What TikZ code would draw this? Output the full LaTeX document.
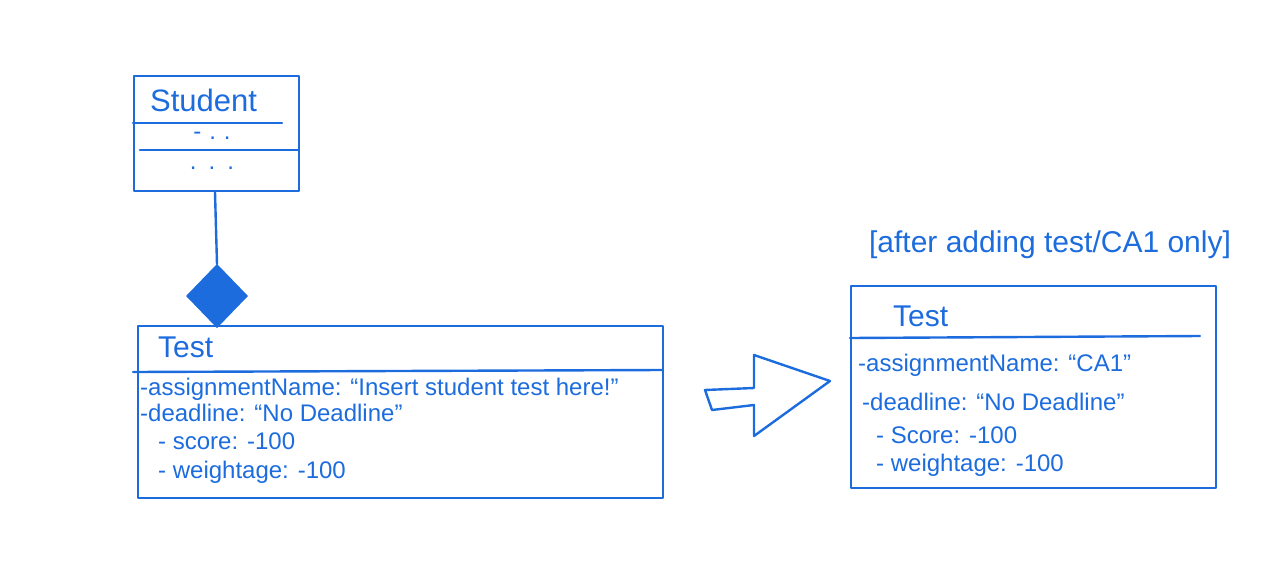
\documentclass[tikz,border=0pt]{standalone}
\usepackage{fontspec}
\setmainfont{Liberation Sans}
\usetikzlibrary{shapes.geometric}
\definecolor{pen}{RGB}{28,108,222}
\begin{document}
\begin{tikzpicture}[x=1pt,y=-1pt,
  ink/.style={draw=pen,line width=2.4pt,line join=round,line cap=round},
  attr/.style={text=pen,anchor=west,inner sep=0pt,font=\fontsize{24}{26}\selectfont},
  ttl/.style={text=pen,anchor=west,inner sep=0pt,font=\fontsize{31}{33}\selectfont},
  box/.style={ink,inner sep=0pt}]
\useasboundingbox (0,0) rectangle (1280,565);
% Student class
\node[box,minimum width=165pt,minimum height=115pt,anchor=north west] (student) at (133,75) {};
\node[ttl] (stitle) at (150,100) {Student};
\coordinate (s1a) at (133,123); \coordinate (s1b) at (282,123);
\draw[ink] (s1a) -- (s1b);
\coordinate (s2a) at (140,150); \coordinate (s2b) at (298,150);
\draw[ink] (s2a) -- (s2b);
\node[attr,anchor=center] (sattr) at (212,136) {-\,\,.\,\,.};
\node[attr,anchor=center] (sops) at (212,168) {.\,\,\,.\,\,\,.};
% composition diamond
\node[draw=pen,fill=pen,line width=2pt,shape=diamond,minimum width=60pt,minimum height=62pt,inner sep=0pt] (dia) at (217,296) {};
\draw[ink] (student.south -| 215,0) -- (dia.north);
% Test class (left)
\node[box,minimum width=525pt,minimum height=172pt,anchor=north west] (test1) at (137,325) {};
\node[ttl,font=\fontsize{30}{32}\selectfont] (t1title) at (158,347) {Test};
\coordinate (t1a) at (133,372); \coordinate (t1b) at (662,370);
\draw[ink] (t1a) -- (t1b);
\node[attr] (t1l1) at (140,389) {-assignmentName: “Insert student test here!”};
\node[attr] (t1l2) at (140,413) {-deadline: “No Deadline”};
\node[attr] (t1l3) at (158,441) {- score: -100};
\node[attr] (t1l4) at (158,472) {- weightage: -100};
% block arrow
\coordinate (a1) at (705,390);
\coordinate (a2) at (754,388);
\coordinate (a3) at (754,355);
\coordinate (a4) at (830,381);
\coordinate (a5) at (754,436);
\coordinate (a6) at (754,405);
\coordinate (a7) at (712,410);
\draw[ink] (a1) -- (a2) -- (a3) -- (a4) -- (a5) -- (a6) -- (a7) -- cycle;
% caption
\node[text=pen,inner sep=0pt,font=\fontsize{30}{32}\selectfont] (cap) at (1050,245) {[after adding test/CA1 only]};
% Test class (right)
\node[box,minimum width=365pt,minimum height=202pt,anchor=north west] (test2) at (850,285) {};
\node[ttl,font=\fontsize{30}{32}\selectfont] (t2title) at (893,316) {Test};
\coordinate (t2a) at (850,338); \coordinate (t2b) at (1200,336);
\draw[ink] (t2a) -- (t2b);
\node[attr] (t2l1) at (858,365) {-assignmentName: “CA1”};
\node[attr] (t2l2) at (862,402) {-deadline: “No Deadline”};
\node[attr] (t2l3) at (876,435) {- Score: -100};
\node[attr] (t2l4) at (876,465) {- weightage: -100};
\end{tikzpicture}
\end{document}
